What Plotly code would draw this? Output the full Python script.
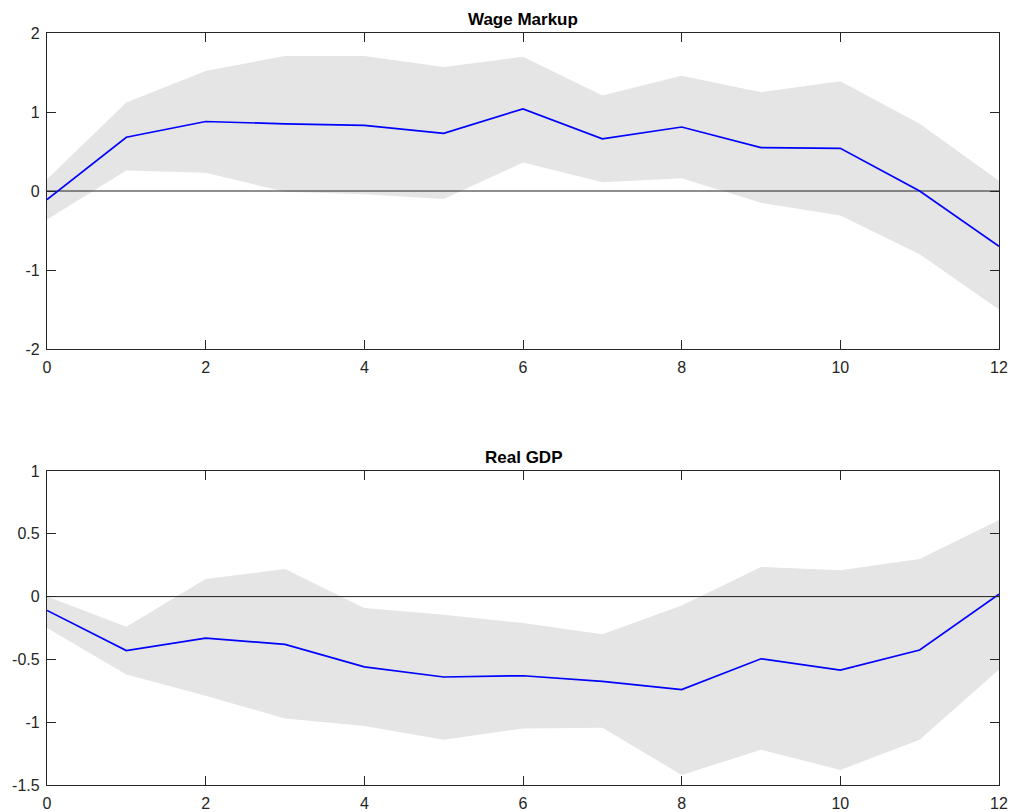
import plotly.graph_objects as go

# ---- data ----
horizon = [0, 1, 2, 3, 4, 5, 6, 7, 8, 9, 10, 11, 12]

wage_mean = [-0.11, 0.68, 0.88, 0.85, 0.83, 0.73, 1.04, 0.66, 0.81, 0.55, 0.54, 0.00, -0.70]
wage_upper = [0.15, 1.12, 1.52, 1.71, 1.71, 1.57, 1.70, 1.21, 1.46, 1.25, 1.39, 0.85, 0.13]
wage_lower = [-0.36, 0.26, 0.23, -0.01, -0.04, -0.10, 0.36, 0.11, 0.16, -0.15, -0.31, -0.80, -1.50]

gdp_mean = [-0.11, -0.43, -0.33, -0.38, -0.56, -0.64, -0.63, -0.675, -0.74, -0.495, -0.585, -0.425, 0.02]
gdp_upper = [0.00, -0.24, 0.14, 0.22, -0.09, -0.145, -0.21, -0.30, -0.07, 0.235, 0.21, 0.30, 0.61]
gdp_lower = [-0.25, -0.62, -0.79, -0.97, -1.03, -1.14, -1.05, -1.045, -1.42, -1.22, -1.38, -1.14, -0.58]

titles = ["Wage Markup", "Real GDP"]
x_ticks = [0, 2, 4, 6, 8, 10, 12]
wage_yticks = [-2, -1, 0, 1, 2]
wage_yticktext = ["-2", "-1", "0", "1", "2"]
gdp_yticks = [-1.5, -1, -0.5, 0, 0.5, 1]
gdp_yticktext = ["-1.5", "-1", "-0.5", "0", "0.5", "1"]

BAND = "#e5e5e5"
LINE = "#0000ff"
AX = "#262626"
FONT = "Liberation Sans, Arial, sans-serif"

fig = go.Figure()

panels = [
    (wage_mean, wage_upper, wage_lower, "x", "y"),
    (gdp_mean, gdp_upper, gdp_lower, "x2", "y2"),
]
for mean, up, lo, xa, ya in panels:
    fig.add_trace(go.Scatter(x=horizon, y=up, mode="lines", line=dict(width=0, color=BAND),
                             xaxis=xa, yaxis=ya, showlegend=False, hoverinfo="skip"))
    fig.add_trace(go.Scatter(x=horizon, y=lo, mode="lines", line=dict(width=0, color=BAND),
                             fill="tonexty", fillcolor=BAND,
                             xaxis=xa, yaxis=ya, showlegend=False, hoverinfo="skip"))
    fig.add_trace(go.Scatter(x=[horizon[0], horizon[-1]], y=[0, 0], mode="lines",
                             line=dict(width=1, color="#202020"),
                             xaxis=xa, yaxis=ya, showlegend=False, hoverinfo="skip"))
    fig.add_trace(go.Scatter(x=horizon, y=mean, mode="lines", line=dict(width=1.7, color=LINE),
                             xaxis=xa, yaxis=ya, showlegend=False))

axis_common = dict(
    showgrid=False, zeroline=False, showline=True, mirror="ticks", automargin=False,
    linecolor=AX, linewidth=1.2, ticks="inside", ticklen=9, tickwidth=1, tickcolor=AX,
    tickfont=dict(family=FONT, size=16, color=AX),
)
xaxis_common = dict(axis_common, ticklabelstandoff=4)
yaxis_common = dict(axis_common, ticklabelstandoff=3)

# plot areas in page pixels: x 46.5..999, y 33..349 and 471..785 (body margin removed below)
W, H = 1011, 812
L, R, T, B = 46.5, 12, 33, 27
ph = H - T - B
top_bottom = ((H - B) - 349) / ph
bot_top = ((H - B) - 471) / ph

fig.update_layout(
    width=W, height=H,
    margin=dict(l=L, r=R, t=T, b=B, pad=0, autoexpand=False),
    paper_bgcolor="white", plot_bgcolor="white",
    xaxis=dict(domain=[0, 1], range=[0, 12], tickvals=x_ticks, anchor="y", **xaxis_common),
    yaxis=dict(domain=[top_bottom, 1], range=[-2, 2], tickvals=wage_yticks,
               ticktext=wage_yticktext, anchor="x", **yaxis_common),
    xaxis2=dict(domain=[0, 1], range=[0, 12], tickvals=x_ticks, anchor="y2", **xaxis_common),
    yaxis2=dict(domain=[0, bot_top], range=[-1.5, 1], tickvals=gdp_yticks,
                ticktext=gdp_yticktext, anchor="x2", **yaxis_common),
    showlegend=False,
)

for t, yd in zip(titles, [1, bot_top]):
    fig.add_annotation(text="<b>%s</b>" % t, x=0.5, y=yd, xref="paper", yref="paper",
                       xanchor="center", yanchor="bottom", yshift=2, showarrow=False,
                       font=dict(family=FONT, size=17, color="#000000"))

fig.write_html(
    "out.html",
    config={"displayModeBar": False},
    post_script="document.body.style.margin='0';document.body.style.overflow='hidden';",
)
